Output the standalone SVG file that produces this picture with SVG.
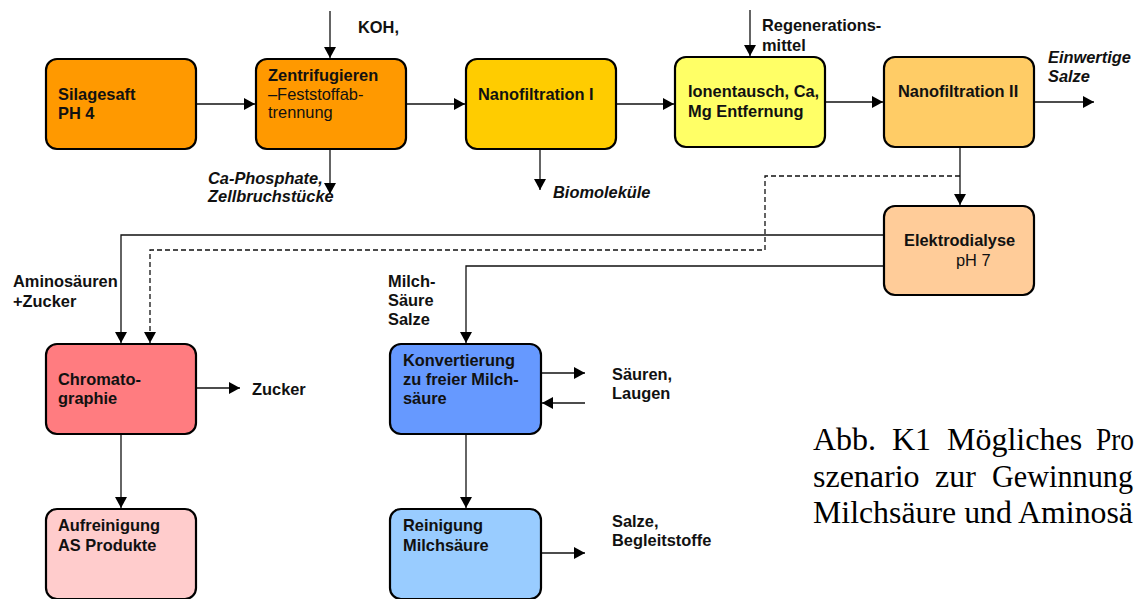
<svg xmlns="http://www.w3.org/2000/svg" width="1135" height="599" viewBox="0 0 1135 599">
<style>
.box{stroke:#000;stroke-width:2.2}
.t{font-family:"Liberation Sans",Arial,sans-serif;font-size:16.4px;font-weight:bold;fill:#111}
.n{font-weight:normal}
.i{font-style:italic}
.c{stroke:#111;stroke-width:1.3;fill:none;marker-end:url(#ah)}
.d{stroke:#111;stroke-width:1.3;fill:none;stroke-dasharray:5,3;marker-end:url(#ah)}
.cap{font-family:"Liberation Serif","Times New Roman",serif;font-size:32px;fill:#000}
</style>
<defs>
<marker id="ah" markerUnits="userSpaceOnUse" markerWidth="11" markerHeight="12" refX="11" refY="6" orient="auto"><path d="M0,0 L11,6 L0,12 z" fill="#000"/></marker>
</defs>
<rect width="1135" height="599" fill="#fff"/>
<g id="connectors">
<line class="c" x1="330" y1="11" x2="330" y2="58"/>
<line class="c" x1="196" y1="104" x2="255" y2="104"/>
<line class="c" x1="330" y1="149" x2="330" y2="194"/>
<line class="c" x1="406" y1="104" x2="465" y2="104"/>
<line class="c" x1="540" y1="149" x2="540" y2="190"/>
<line class="c" x1="616" y1="104" x2="674" y2="104"/>
<line class="c" x1="750" y1="10" x2="750" y2="56"/>
<line class="c" x1="825" y1="102" x2="883" y2="102"/>
<line class="c" x1="1034" y1="102" x2="1094" y2="102"/>
<line class="c" x1="960" y1="147" x2="960" y2="205"/>
<path class="d" d="M960,176 H765 V250 H150 V343"/>
<path class="c" d="M884,235 H121 V343"/>
<path class="c" d="M884,266 H466 V343"/>
<line class="c" x1="196" y1="388" x2="240" y2="388"/>
<line class="c" x1="121" y1="434" x2="121" y2="508"/>
<line class="c" x1="541" y1="373" x2="585" y2="373"/>
<line class="c" x1="585" y1="403" x2="542" y2="403"/>
<line class="c" x1="466" y1="434" x2="466" y2="508"/>
<line class="c" x1="541" y1="553" x2="585" y2="553"/>
</g>
<g id="silagesaft">
<rect class="box" x="46" y="59" width="150" height="90" rx="11" fill="#FF9900"/>
<text class="t" x="58" y="100">Silagesaft</text>
<text class="t" x="58" y="119">PH 4</text>
</g>
<g id="zentrifugieren">
<rect class="box" x="256" y="59" width="150" height="90" rx="11" fill="#FF9900"/>
<text class="t" x="268" y="81">Zentrifugieren</text>
<text class="t n" x="268" y="100">–Feststoffab-</text>
<text class="t n" x="268" y="118">trennung</text>
</g>
<g id="nanofiltration1">
<rect class="box" x="466" y="59" width="150" height="90" rx="11" fill="#FFCC00"/>
<text class="t" x="478" y="100">Nanofiltration I</text>
</g>
<g id="ionentausch">
<rect class="box" x="675" y="57" width="150" height="90" rx="11" fill="#FFFF66"/>
<text class="t" x="688" y="97">Ionentausch, Ca,</text>
<text class="t" x="688" y="117">Mg Entfernung</text>
</g>
<g id="nanofiltration2">
<rect class="box" x="884" y="57" width="150" height="90" rx="11" fill="#FFCC66"/>
<text class="t" x="898" y="97">Nanofiltration II</text>
</g>
<g id="elektrodialyse">
<rect class="box" x="884" y="206" width="150" height="89" rx="11" fill="#FFCC99"/>
<text class="t" x="904" y="246">Elektrodialyse</text>
<text class="t n" x="956" y="266">pH 7</text>
</g>
<g id="chromatographie">
<rect class="box" x="46" y="344" width="150" height="90" rx="11" fill="#FF7C80"/>
<text class="t" x="58" y="385">Chromato-</text>
<text class="t" x="58" y="404">graphie</text>
</g>
<g id="aufreinigung">
<rect class="box" x="46" y="509" width="150" height="90" rx="11" fill="#FFCCCC"/>
<text class="t" x="58" y="531">Aufreinigung</text>
<text class="t" x="58" y="551">AS Produkte</text>
</g>
<g id="konvertierung">
<rect class="box" x="390" y="344" width="151" height="90" rx="11" fill="#6699FF"/>
<text class="t" x="403" y="366">Konvertierung</text>
<text class="t" x="403" y="385">zu freier Milch-</text>
<text class="t" x="403" y="404">säure</text>
</g>
<g id="reinigung">
<rect class="box" x="390" y="509" width="151" height="90" rx="11" fill="#99CCFF"/>
<text class="t" x="403" y="531">Reinigung</text>
<text class="t" x="403" y="551">Milchsäure</text>
</g>
<g id="labels">
<text class="t" x="358" y="33">KOH,</text>
<text class="t i" x="208" y="184">Ca-Phosphate,</text>
<text class="t i" x="208" y="202">Zellbruchstücke</text>
<text class="t i" x="553" y="198">Biomoleküle</text>
<text class="t" x="762" y="31">Regenerations-</text>
<text class="t" x="762" y="51">mittel</text>
<text class="t i" x="1048" y="63">Einwertige</text>
<text class="t i" x="1048" y="82">Salze</text>
<text class="t" x="13" y="287">Aminosäuren</text>
<text class="t" x="13" y="307">+Zucker</text>
<text class="t" x="388" y="287">Milch-</text>
<text class="t" x="388" y="306">Säure</text>
<text class="t" x="388" y="325">Salze</text>
<text class="t" x="252" y="395">Zucker</text>
<text class="t" x="612" y="380">Säuren,</text>
<text class="t" x="612" y="399">Laugen</text>
<text class="t" x="612" y="527">Salze,</text>
<text class="t" x="612" y="546">Begleitstoffe</text>
</g>
<g id="caption">
<text class="cap" y="450"><tspan x="813">Abb.</tspan><tspan x="892">K1</tspan><tspan x="947">Mögliches</tspan></text>
<text class="cap" x="1096" y="450" textLength="38" lengthAdjust="spacingAndGlyphs">Pro</text>
<text class="cap" y="487"><tspan x="813">szenario</tspan><tspan x="935">zur</tspan></text>
<text class="cap" x="992" y="487" textLength="141" lengthAdjust="spacingAndGlyphs">Gewinnung</text>
<text class="cap" x="813" y="523" textLength="320" lengthAdjust="spacingAndGlyphs">Milchsäure und Aminosä</text>
</g>
</svg>
